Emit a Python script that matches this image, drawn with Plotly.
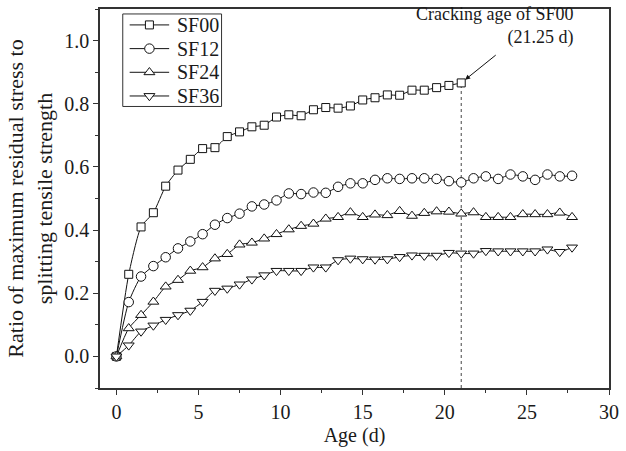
import plotly.graph_objects as go

age = [0, 0.75, 1.5, 2.25, 3, 3.75, 4.5, 5.25, 6, 6.75, 7.5, 8.25, 9, 9.75,
       10.5, 11.25, 12, 12.75, 13.5, 14.25, 15, 15.75, 16.5, 17.25, 18, 18.75,
       19.5, 20.25, 21, 21.75, 22.5, 23.25, 24, 24.75, 25.5, 26.25, 27, 27.75]

sf00 = [0, 0.26, 0.41, 0.455, 0.539, 0.590, 0.624, 0.658, 0.661, 0.696, 0.711,
        0.727, 0.732, 0.758, 0.765, 0.762, 0.781, 0.788, 0.786, 0.793, 0.812,
        0.819, 0.828, 0.827, 0.843, 0.843, 0.851, 0.858, 0.866]
sf12 = [0, 0.172, 0.253, 0.286, 0.314, 0.342, 0.364, 0.387, 0.417, 0.438, 0.452,
        0.475, 0.481, 0.494, 0.516, 0.514, 0.519, 0.518, 0.537, 0.548, 0.548,
        0.559, 0.564, 0.562, 0.564, 0.564, 0.562, 0.555, 0.551, 0.564, 0.570,
        0.562, 0.576, 0.570, 0.559, 0.576, 0.570, 0.572]
sf24 = [0, 0.089, 0.131, 0.173, 0.221, 0.242, 0.271, 0.282, 0.310, 0.324, 0.354,
        0.360, 0.373, 0.387, 0.402, 0.413, 0.420, 0.436, 0.441, 0.456, 0.441,
        0.449, 0.447, 0.460, 0.445, 0.454, 0.459, 0.458, 0.452, 0.456, 0.441,
        0.441, 0.441, 0.450, 0.450, 0.450, 0.455, 0.441]
sf36 = [0, 0.035, 0.079, 0.098, 0.116, 0.131, 0.145, 0.173, 0.208, 0.215, 0.228,
        0.244, 0.257, 0.271, 0.271, 0.271, 0.282, 0.282, 0.305, 0.310, 0.308,
        0.307, 0.308, 0.315, 0.320, 0.319, 0.319, 0.328, 0.326, 0.326, 0.334,
        0.333, 0.333, 0.333, 0.333, 0.339, 0.331, 0.345]

names = ["SF00", "SF12", "SF24", "SF36"]
values = [sf00, sf12, sf24, sf36]
symbols = ["square", "circle", "triangle-up", "triangle-down"]
sizes = [8, 9.5, 9.5, 9.5]

crack_age = age[len(sf00) - 1]
crack_val = sf00[-1]

FONT = "Liberation Serif"
INK = "#111111"
TXT = "#1a1a1a"
fig = go.Figure()
for name, vals, sym, sz in zip(names, values, symbols, sizes):
    fig.add_trace(go.Scatter(
        x=age[:len(vals)], y=vals, name=name, mode="lines+markers",
        line=dict(color=INK, width=1, shape="spline", smoothing=0.6),
        marker=dict(symbol=sym, size=sz, color="white", line=dict(color=INK, width=1)),
        showlegend=False,
    ))

# ---- legend (drawn in paper-like coordinates on a hidden overlay axis) ----
leg_x0, leg_x1 = 0.0447, 0.2388
leg_y0, leg_y1 = 0.7428, 0.9869
sample_x0, sample_x1 = 0.0583, 0.1359
text_x = 0.1476
item_top, item_step = 0.958, 0.0625
fig.add_shape(type="rect", xref="paper", yref="paper", x0=leg_x0, x1=leg_x1,
              y0=leg_y0, y1=leg_y1, line=dict(color="#333333", width=1),
              fillcolor="white", layer="below")
for i, (name, sym, sz) in enumerate(zip(names, symbols, sizes)):
    yy = item_top - i * item_step
    fig.add_trace(go.Scatter(
        x=[sample_x0, (sample_x0 + sample_x1) / 2, sample_x1], y=[yy, yy, yy],
        xaxis="x2", yaxis="y2", mode="lines", line=dict(color=INK, width=1),
        showlegend=False, hoverinfo="skip"))
    fig.add_trace(go.Scatter(
        x=[(sample_x0 + sample_x1) / 2], y=[yy], xaxis="x2", yaxis="y2",
        mode="markers", marker=dict(symbol=sym, size=sz, color="white",
                                    line=dict(color=INK, width=1)),
        showlegend=False, hoverinfo="skip"))
    fig.add_annotation(x=text_x, y=yy, xref="paper", yref="paper", text=name,
                       showarrow=False, xanchor="left", yanchor="middle",
                       font=dict(family=FONT, size=20, color=TXT))

fig.add_shape(type="line", x0=crack_age, x1=crack_age, y0=-0.1, y1=crack_val,
              xref="x", yref="y", line=dict(color="#444444", width=1, dash="dot"),
              layer="below")

fig.add_annotation(x=crack_age, y=crack_val, xref="x", yref="y", text="",
                   showarrow=True, arrowhead=2, arrowsize=1, arrowwidth=1,
                   arrowcolor=INK, ax=36, ay=-29, standoff=5)
fig.add_annotation(x=27.9, y=1.045, xref="x", yref="y",
                   text="Cracking age of SF00<br>(21.25 d)", align="right",
                   showarrow=False, xanchor="right", yanchor="middle",
                   font=dict(family=FONT, size=18, color=TXT))

axis_common = dict(showline=True, linecolor="#333333", linewidth=1.5, mirror=True,
                   ticks="outside", ticklen=5, tickwidth=1.2, tickcolor="#333333",
                   showgrid=False, zeroline=False,
                   tickfont=dict(family=FONT, size=20, color=TXT))

fig.update_layout(
    width=626, height=451,
    margin=dict(l=100, r=11, t=7, b=63),
    paper_bgcolor="white", plot_bgcolor="white",
    font=dict(family=FONT, size=18, color=TXT),
    showlegend=False,
    xaxis=dict(range=[-1, 30], tick0=0, dtick=5,
               minor=dict(ticks="outside", ticklen=3, dtick=2.5, tick0=0,
                          tickcolor="#333333"),
               title=dict(text="Age (d)", font=dict(family=FONT, size=20, color=TXT),
                          standoff=6),
               **axis_common),
    yaxis=dict(range=[-0.1, 1.1], tick0=0, dtick=0.2, tickformat=".1f",
               minor=dict(ticks="outside", ticklen=3, dtick=0.1, tick0=0,
                          tickcolor="#333333"),
               title=dict(text="Ratio of maximum residual stress to<br>splitting tensile strength",
                          font=dict(family=FONT, size=22, color=TXT), standoff=6),
               **axis_common),
    xaxis2=dict(overlaying="x", range=[0, 1], visible=False, fixedrange=True),
    yaxis2=dict(overlaying="y", range=[0, 1], visible=False, fixedrange=True),
)

fig.write_html("out.html")
